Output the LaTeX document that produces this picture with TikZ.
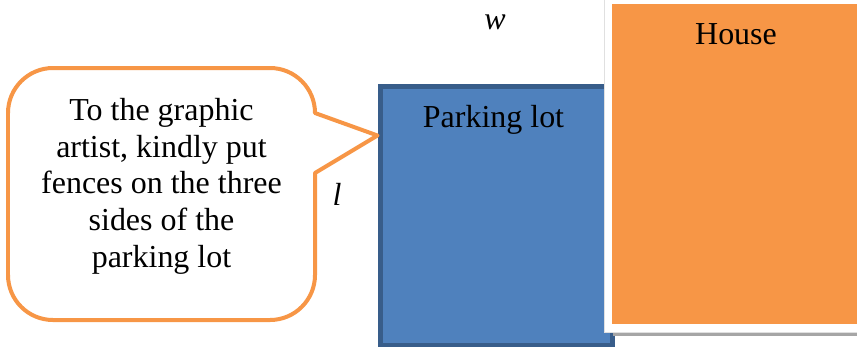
\documentclass[tikz,border=0pt]{standalone}
\usepackage{fontspec}
\setmainfont{Liberation Serif}
\usetikzlibrary{calc}
\definecolor{lotblue}{HTML}{4F81BD}
\definecolor{lotedge}{HTML}{385D8A}
\definecolor{houseorange}{HTML}{F79646}

\begin{document}
\begin{tikzpicture}[x=0.02cm,y=0.02cm,
  every node/.style={font=\fontsize{18.2}{20.9}\selectfont,inner sep=0pt},
  lot/.style={fill=lotblue,draw=lotedge,line width=0.1cm,minimum width=4.66cm,minimum height=5.2cm},
  house/.style={fill=houseorange,minimum width=5cm,minimum height=6.4cm},
  bubble/.style={draw=houseorange,fill=white,line width=0.08cm,line join=round}]
  \useasboundingbox (0,0) rectangle (857,-346);
  \clip (0,0) rectangle (857,-346);
  % parking lot
  \node[lot,anchor=north west] (lot) at (377.5,-83.5) {};
  \node[anchor=base] (lotname) at (493.5,-127) {Parking lot};
  % house with white frame and shadow
  \fill[black!35] (613,-12) rectangle (870,-336);
  \filldraw[white,draw=black!12,line width=0.3pt] (604,4) rectangle (870,-332);
  \node[house,anchor=north west] (house) at (612,-4) {};
  \node[anchor=base] (housename) at (736,-44) {House};
  % dimensions
  \node[anchor=base] (wlabel) at (495,-29) {\itshape w};
  \node[anchor=base] (llabel) at (337,-205) {\itshape l};
  % callout
  \coordinate (tip) at ($(lot.north west)+(0,-52)$);
  \draw[bubble] (53,-68) -- (270,-68) arc[start angle=90,end angle=0,radius=45]
    -- (315,-113) -- (tip) -- (315,-173) -- (315,-275)
    arc[start angle=0,end angle=-90,radius=45] -- (53,-320)
    arc[start angle=-90,end angle=-180,radius=45] -- (8,-113)
    arc[start angle=180,end angle=90,radius=45] -- cycle;
  \node[anchor=north,align=center] (note) at (161.5,-98)
    {To the graphic\\artist, kindly put\\fences on the three\\sides of the\\parking lot};
\end{tikzpicture}
\end{document}
